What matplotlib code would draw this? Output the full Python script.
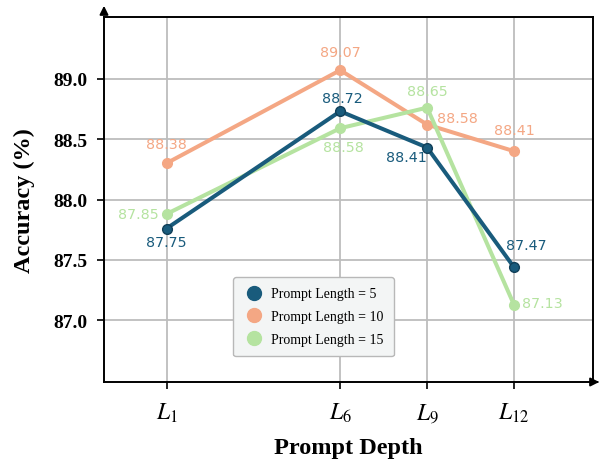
import matplotlib
matplotlib.use("Agg")
import matplotlib.pyplot as plt
from matplotlib.lines import Line2D
from matplotlib.patches import FancyArrowPatch

plt.rcParams["mathtext.fontset"] = "stix"

# ---- data ----
depth_labels = [r"$L_{1}$", r"$L_{6}$", r"$L_{9}$", r"$L_{12}$"]
depth_pos = [1, 3, 4, 5]
series_names = ["Prompt Length = 5", "Prompt Length = 10", "Prompt Length = 15"]
acc_len5 = [87.76, 88.73, 88.43, 87.44]
acc_len10 = [88.30, 89.07, 88.62, 88.40]
acc_len15 = [87.88, 88.59, 88.76, 87.13]
text_len5 = ["87.75", "88.72", "88.41", "87.47"]
text_len10 = ["88.38", "89.07", "88.58", "88.41"]
text_len15 = ["87.85", "88.58", "88.65", "87.13"]
y_ticks = [87.0, 87.5, 88.0, 88.5, 89.0]

colors = ["#195b7c", "#f4a784", "#b5e3a0"]
edge_colors = ["#103f58", "#f4a784", "#b5e3a0"]

# label offsets in pixels (dx, dy) + alignment
offs5 = [(0, -13, "center"), (2, 13, "center"), (0, -9, "right"), (12, 22, "center")]
offs10 = [(0, 19, "center"), (0, 18, "center"), (10, 7, "left"), (0, 21, "center")]
offs15 = [(-8, 0, "right"), (3, -19, "center"), (0, 17, "center"), (8, 2, "left")]

DPI = 100
fig = plt.figure(figsize=(6.03, 4.60), dpi=DPI)
L, R, B, T = 104, 593, 383, 18
W, H = 603, 460
ax = fig.add_axes([L / W, 1 - B / H, (R - L) / W, (B - T) / H])

serif = ["Liberation Serif", "DejaVu Serif"]

all_vals = [acc_len5, acc_len10, acc_len15]
all_txt = [text_len5, text_len10, text_len15]
all_offs = [offs5, offs10, offs15]
for i in [1, 2, 0]:
    ax.plot(depth_pos, all_vals[i], color=colors[i], lw=2.9, marker="o", ms=7,
            mfc=colors[i], mec=edge_colors[i], mew=1.0, zorder=3 + (i == 0))
for i in range(3):
    for x, y, t, (dx, dy, ha) in zip(depth_pos, all_vals[i], all_txt[i], all_offs[i]):
        ax.annotate(t, (x, y), xytext=(dx * 0.72, dy * 0.72), textcoords="offset points",
                    ha=ha, va="center", fontsize=10.3, color=colors[i],
                    family="DejaVu Sans", zorder=6)

ax.set_xlim(0.28, 5.91)
ax.set_ylim(86.49, 89.51)
ax.set_xticks(depth_pos)
ax.set_xticklabels(depth_labels, fontsize=17)
ax.set_yticks(y_ticks)
ax.set_yticklabels([f"{v:.1f}" for v in y_ticks], fontsize=14, fontweight="bold", family=serif)
ax.tick_params(axis="both", direction="out", length=5, width=1.2, color="black")
ax.tick_params(axis="y", pad=7)
ax.tick_params(axis="x", pad=8)
ax.grid(True, color="#bdbdbd", lw=1.3)
ax.set_axisbelow(True)
for s in ax.spines.values():
    s.set_linewidth(1.4)
    s.set_color("black")

ax.set_xlabel("Prompt Depth", fontsize=17.5, fontweight="bold", family=serif, labelpad=9)
ax.set_ylabel("Accuracy (%)", fontsize=17.5, fontweight="bold", family=serif, labelpad=13)

# axis arrows
fig.add_artist(FancyArrowPatch(
    (L / W, 1 - T / H), (L / W, 1 - 4 / H), transform=fig.transFigure,
    arrowstyle="-|>,head_length=5,head_width=2.5", color="black", lw=1.4, mutation_scale=1))
fig.add_artist(FancyArrowPatch(
    (R / W, 1 - B / H), (602 / W, 1 - B / H), transform=fig.transFigure,
    arrowstyle="-|>,head_length=5,head_width=2.5", color="black", lw=1.4, mutation_scale=1))

handles = [Line2D([], [], ls="none", marker="o", ms=10, mfc=colors[i], mec=colors[i])
           for i in range(3)]
leg = ax.legend(handles, series_names, loc="center", bbox_to_anchor=(0.428, 0.179),
                prop={"family": serif, "size": 10}, frameon=True, fancybox=True,
                facecolor="#f3f5f5", edgecolor="#b8b8b8", framealpha=1.0,
                labelspacing=0.7, handletextpad=0.4, borderpad=0.75, handlelength=1.6)
leg.get_frame().set_linewidth(1.0)

fig.savefig("out.png", dpi=DPI)
